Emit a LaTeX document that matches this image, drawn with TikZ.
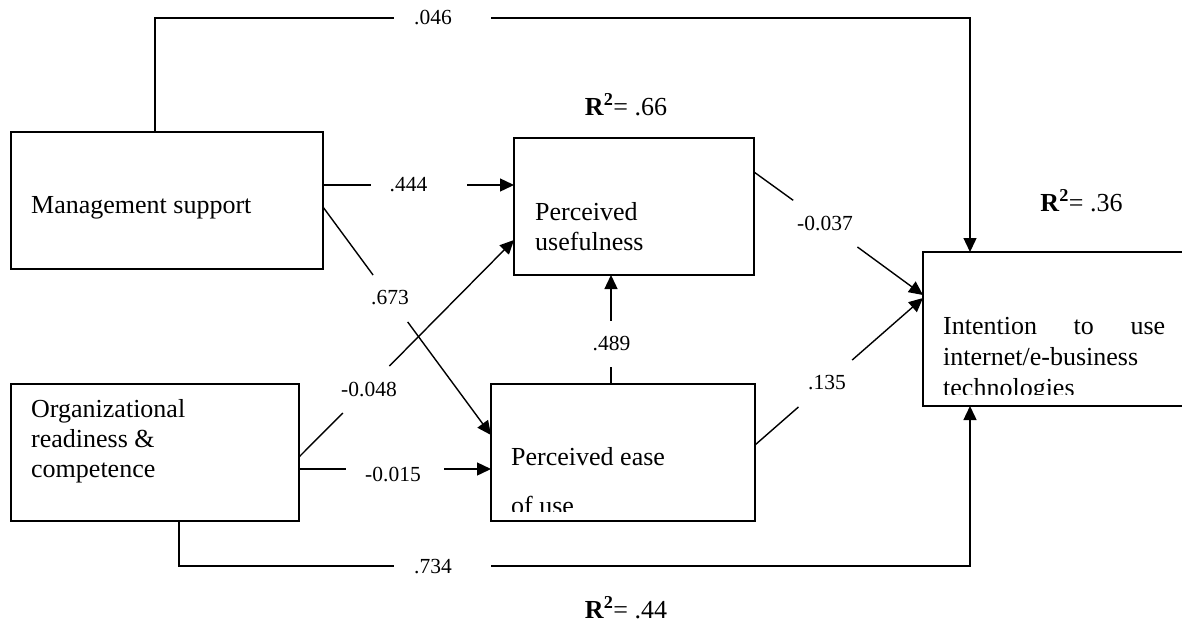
\documentclass[tikz,border=0pt]{standalone}
\usepackage{fontspec}
\setmainfont{Liberation Serif}
\usetikzlibrary{arrows.meta,calc}
\begin{document}
\begin{tikzpicture}[x=1pt,y=-1pt,
  box/.style={draw, line width=1.8pt, rectangle, inner sep=0pt, outer sep=0pt},
  conn/.style={line width=1.4pt},
  arr/.style={conn, -{Triangle[length=14pt,width=13pt]}},
  gap/.style={rectangle, inner sep=0pt, outer sep=0pt},
  lbl/.style={font=\fontsize{21.5}{25}\selectfont, inner sep=0pt},
  txt/.style={font=\fontsize{26}{30}\selectfont, inner sep=0pt, anchor=base west},
  rsq/.style={font=\fontsize{26}{30}\selectfont, inner sep=0pt, anchor=base}
]
\useasboundingbox (0,0) rectangle (1182,627);
\clip (0,0) rectangle (1182,627);

% boxes
\node[box, minimum width=312pt, minimum height=137pt] (MS) at (167,200.5) {};
\node[box, minimum width=240pt, minimum height=137pt] (PU) at (634,206.5) {};
\node[box, minimum width=288pt, minimum height=137pt] (Org) at (155,452.5) {};
\node[box, minimum width=264pt, minimum height=137pt] (PE) at (623,452.5) {};
\node[box, minimum width=277pt, minimum height=154pt] (IN) at (1061.5,329) {};

% box texts
\node[txt] (tMS) at (31,213) {Management support};
\node[txt] (tPU1) at (535,220) {Perceived};
\node[txt] (tPU2) at (535,250) {usefulness};
\node[txt] (tOR1) at (31,417) {Organizational};
\node[txt] (tOR2) at (31,447) {readiness \&};
\node[txt] (tOR3) at (31,477) {competence};
\node[txt] (tPE1) at (511,465) {Perceived ease};
\begin{scope}
  \clip (491,384) rectangle (755,511);
  \node[txt] (tPE2) at (511,514) {of use};
\end{scope}
\node[txt] (tIN1) at (943,334) {\makebox[222pt][s]{Intention to use}};
\node[txt] (tIN2) at (943,365) {internet/e-business};
\begin{scope}
  \clip (923,252) rectangle (1182,394);
  \node[txt] (tIN3) at (943,396) {technologies};
\end{scope}

% R squared
\node[rsq] (r66) at (626,115) {\textbf{R\textsuperscript{2}}= .66};
\node[rsq] (r36) at (1081.5,211) {\textbf{R\textsuperscript{2}}= .36};
\node[rsq] (r44) at (626,618) {\textbf{R\textsuperscript{2}}= .44};

% gaps and labels
\node[gap, minimum width=97pt, minimum height=10pt] (g046) at (442.5,18) {};
\node[lbl] (l046) at (433,18) {.046};
\node[gap, minimum width=96pt, minimum height=10pt] (g444) at (419,185) {};
\node[lbl] (l444) at (408.5,185) {.444};
\node[gap, minimum width=34.6pt, minimum height=47pt] (g673) at (390.4,298.5) {};
\node[lbl] (l673) at (390,298) {.673};
\node[gap, minimum width=46.8pt, minimum height=47pt] (g048) at (366.2,389.5) {};
\node[lbl] (l048) at (369,389) {-0.048};
\node[gap, minimum width=98pt, minimum height=10pt] (g015) at (395,469) {};
\node[lbl] (l015) at (393,474) {-0.015};
\node[gap, minimum width=97pt, minimum height=10pt] (g734) at (442.5,566) {};
\node[lbl] (l734) at (433,567) {.734};
\node[gap, minimum width=64.2pt, minimum height=47pt] (g037) at (825.3,223.5) {};
\node[lbl] (l037) at (825,223) {-0.037};
\node[gap, minimum width=53.7pt, minimum height=47pt] (g135) at (825.3,383.5) {};
\node[lbl] (l135) at (827,383) {.135};
\node[gap, minimum width=10pt, minimum height=46pt] (g489) at (611,343.5) {};
\node[lbl] (l489) at (611.5,343) {.489};

% connectors
\draw[arr] (MS.north -| 155,0) |- (g046) -| (IN.north -| 970,0);
\draw[arr] (MS.east |- 0,185) -- (g444) -- (PU.west |- 0,185);
\draw[arr] (MS.east |- 0,207) -- (g673) -- (PE.west |- 0,435);
\draw[arr] (Org.east |- 0,457) -- (g048) -- (PU.west |- 0,240);
\draw[arr] (Org.east |- 0,469) -- (g015) -- (PE.west |- 0,469);
\draw[arr] (Org.south -| 179,0) |- (g734) -| (IN.south -| 970,0);
\draw[arr] (PE.north -| 611,0) -- (g489) -- (PU.south -| 611,0);
\draw[arr] (PU.east |- 0,172) -- (g037) -- (IN.west |- 0,295);
\draw[arr] (PE.east |- 0,445) -- (g135) -- (IN.west |- 0,298);
\end{tikzpicture}
\end{document}
